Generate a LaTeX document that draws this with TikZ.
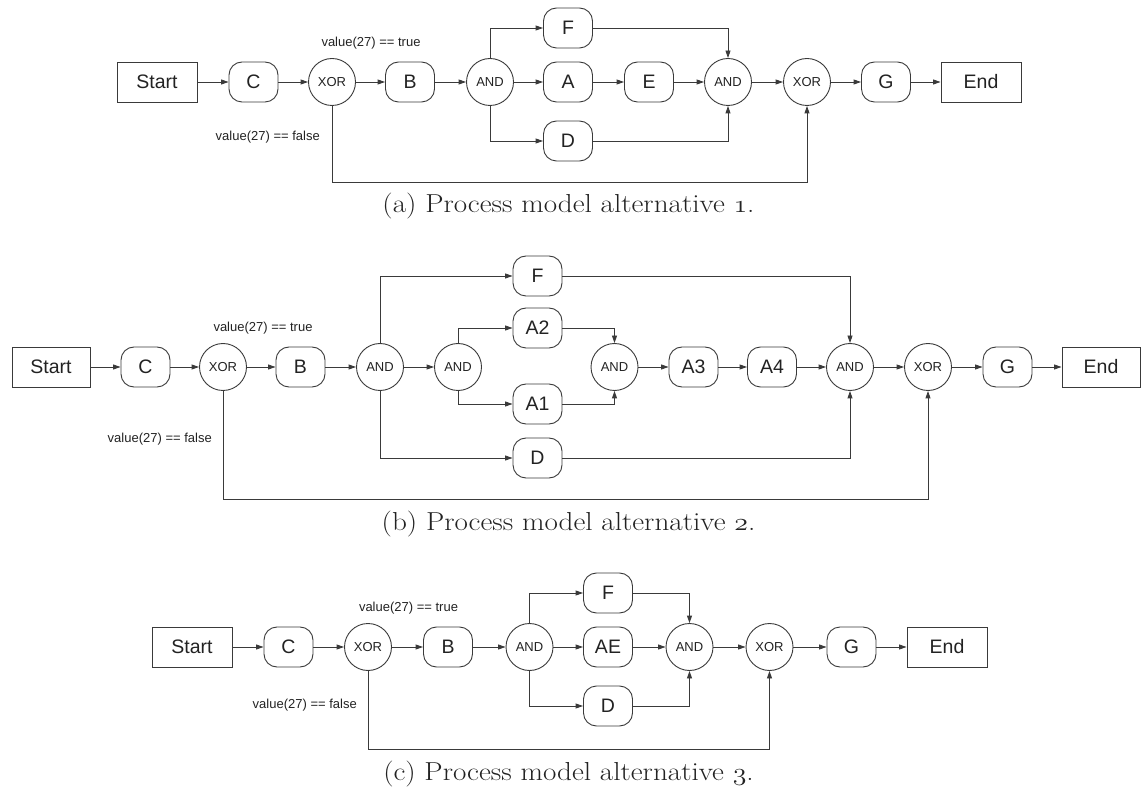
\documentclass[tikz,border=0pt]{standalone}
\usepackage{graphicx}
\usepackage{fontspec}
\setsansfont{Liberation Sans}
\usetikzlibrary{arrows.meta}
\newcommand{\osnum}[1]{{\usefont{OML}{cmm}{m}{it}#1}}
\newcommand{\capwide}[1]{\scalebox{1.12}[1]{#1}}
\definecolor{linec}{HTML}{3A3A3A}
\definecolor{textc}{HTML}{222222}
\tikzset{
  base/.style={draw=linec, line width=0.9pt},
  flow/.style={base, -{Triangle[length=7.5pt,width=5pt]}},
  plain/.style={base},
  term/.style={base, rectangle, minimum width=80pt, minimum height=40pt, inner sep=0pt, text=textc, font=\sffamily\fontsize{19.5}{24}\selectfont},
  act/.style={base, rectangle, rounded corners=13pt, minimum width=49pt, minimum height=40pt, inner sep=0pt, text=textc, font=\sffamily\fontsize{19.5}{24}\selectfont},
  gate/.style={base, circle, minimum size=47pt, inner sep=0pt, text=textc, font=\sffamily\fontsize{13}{15}\selectfont},
  cond/.style={inner sep=0pt, text=textc, font=\sffamily\fontsize{13}{15}\selectfont},
  capt/.style={inner sep=0pt, anchor=base, text=textc, font=\fontsize{26}{30}\selectfont}
}
\begin{document}
\begin{tikzpicture}[x=1pt,y=-1pt]
\useasboundingbox (0,0) rectangle (1141,791);
% ---------------- (a)
\node[term] (a-start) at (157,82) {Start};
\node[act]  (a-c)  at (253.5,82) {C};
\node[gate] (a-x1) at (332,82) {XOR};
\node[act]  (a-b)  at (410,82) {B};
\node[gate] (a-n1) at (490,82) {AND};
\node[act]  (a-f)  at (568,28) {F};
\node[act]  (a-a)  at (568,82) {A};
\node[act]  (a-d)  at (568,141) {D};
\node[act]  (a-e)  at (649,82) {E};
\node[gate] (a-n2) at (728,82) {AND};
\node[gate] (a-x2) at (807,82) {XOR};
\node[act]  (a-g)  at (886,82) {G};
\node[term] (a-end) at (981,82) {End};
\coordinate (a-low) at (332,182);
\node[cond] (a-true) at (371,43) {value(27) == true};
\node[cond, anchor=east] (a-false) at (320,137) {value(27) == false};
\draw[flow] (a-start) -- (a-c);
\draw[flow] (a-c) -- (a-x1);
\draw[flow] (a-x1) -- (a-b);
\draw[flow] (a-b) -- (a-n1);
\draw[flow] (a-n1) -- (a-a);
\draw[flow] (a-a) -- (a-e);
\draw[flow] (a-e) -- (a-n2);
\draw[flow] (a-n2) -- (a-x2);
\draw[flow] (a-x2) -- (a-g);
\draw[flow] (a-g) -- (a-end);
\draw[flow] (a-n1) |- (a-f);
\draw[flow] (a-f) -| (a-n2);
\draw[flow] (a-n1) |- (a-d);
\draw[flow] (a-d) -| (a-n2);
\draw[plain] (a-x1) -- (a-low);
\draw[flow] (a-low) -| (a-x2);
\node[capt] (a-cap) at (568.5,213) {\capwide{(a) Process model alternative \osnum{1}.}};
% ---------------- (b)
\node[term, minimum width=78pt] (b-start) at (51,367) {Start};
\node[act]  (b-c)  at (145.5,367) {C};
\node[gate] (b-x1) at (223,367) {XOR};
\node[act]  (b-b)  at (300.5,367) {B};
\node[gate] (b-n1) at (380,367) {AND};
\node[gate] (b-n2) at (458,367) {AND};
\node[act]  (b-f)  at (537.5,276) {F};
\node[act]  (b-a2) at (537.5,328) {A2};
\node[act]  (b-a1) at (537.5,404) {A1};
\node[act]  (b-d)  at (537.5,458) {D};
\node[gate] (b-n3) at (614.5,367) {AND};
\node[act]  (b-a3) at (693.5,367) {A3};
\node[act]  (b-a4) at (772,367) {A4};
\node[gate] (b-n4) at (850,367) {AND};
\node[gate] (b-x2) at (928,367) {XOR};
\node[act]  (b-g)  at (1007.5,367) {G};
\node[term, minimum width=78pt] (b-end) at (1101,367) {End};
\coordinate (b-low) at (223,499);
\node[cond] (b-true) at (263,328) {value(27) == true};
\node[cond, anchor=east] (b-false) at (212,439) {value(27) == false};
\draw[flow] (b-start) -- (b-c);
\draw[flow] (b-c) -- (b-x1);
\draw[flow] (b-x1) -- (b-b);
\draw[flow] (b-b) -- (b-n1);
\draw[flow] (b-n1) -- (b-n2);
\draw[flow] (b-n1) |- (b-f);
\draw[flow] (b-f) -| (b-n4);
\draw[flow] (b-n1) |- (b-d);
\draw[flow] (b-d) -| (b-n4);
\draw[flow] (b-n2) |- (b-a2);
\draw[flow] (b-a2) -| (b-n3);
\draw[flow] (b-n2) |- (b-a1);
\draw[flow] (b-a1) -| (b-n3);
\draw[flow] (b-n3) -- (b-a3);
\draw[flow] (b-a3) -- (b-a4);
\draw[flow] (b-a4) -- (b-n4);
\draw[flow] (b-n4) -- (b-x2);
\draw[flow] (b-x2) -- (b-g);
\draw[flow] (b-g) -- (b-end);
\draw[plain] (b-x1) -- (b-low);
\draw[flow] (b-low) -| (b-x2);
\node[capt] (b-cap) at (568.5,530) {\capwide{(b) Process model alternative \osnum{2}.}};
% ---------------- (c)
\node[term] (c-start) at (192,647) {Start};
\node[act]  (c-c)  at (288.5,647) {C};
\node[gate] (c-x1) at (368,647) {XOR};
\node[act]  (c-b)  at (448,647) {B};
\node[gate] (c-n1) at (529.5,647) {AND};
\node[act]  (c-f)  at (608,593) {F};
\node[act]  (c-ae) at (608,647) {AE};
\node[act]  (c-d)  at (608,706) {D};
\node[gate] (c-n2) at (689.5,647) {AND};
\node[gate] (c-x2) at (769.5,647) {XOR};
\node[act]  (c-g)  at (851.5,647) {G};
\node[term] (c-end) at (947,647) {End};
\coordinate (c-low) at (368,749);
\node[cond] (c-true) at (408.5,608) {value(27) == true};
\node[cond, anchor=east] (c-false) at (357,705) {value(27) == false};
\draw[flow] (c-start) -- (c-c);
\draw[flow] (c-c) -- (c-x1);
\draw[flow] (c-x1) -- (c-b);
\draw[flow] (c-b) -- (c-n1);
\draw[flow] (c-n1) -- (c-ae);
\draw[flow] (c-ae) -- (c-n2);
\draw[flow] (c-n2) -- (c-x2);
\draw[flow] (c-x2) -- (c-g);
\draw[flow] (c-g) -- (c-end);
\draw[flow] (c-n1) |- (c-f);
\draw[flow] (c-f) -| (c-n2);
\draw[flow] (c-n1) |- (c-d);
\draw[flow] (c-d) -| (c-n2);
\draw[plain] (c-x1) -- (c-low);
\draw[flow] (c-low) -| (c-x2);
\node[capt] (c-cap) at (568.5,780) {\capwide{(c) Process model alternative \osnum{3}.}};
\end{tikzpicture}
\end{document}
